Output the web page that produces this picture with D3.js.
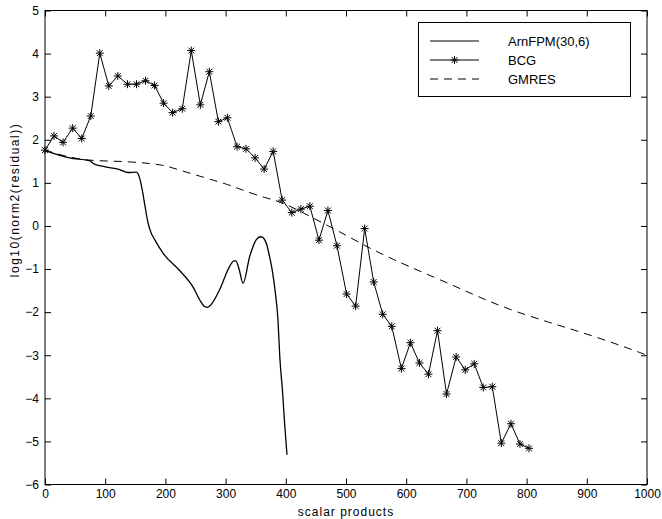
<!DOCTYPE html>
<html>
<head>
<meta charset="utf-8">
<script src="https://cdn.jsdelivr.net/npm/d3@7"></script>
<style>
  html, body { margin: 0; padding: 0; background: #fff; }
  svg text { font-family: "Liberation Sans", Arial, Helvetica, sans-serif; fill: #000; }
</style>
</head>
<body>
<svg id="chart" width="662" height="519"></svg>
<script>
// ---------------- DATA ----------------
const xTicks = [0, 100, 200, 300, 400, 500, 600, 700, 800, 900, 1000];
const yTicks = [-6, -5, -4, -3, -2, -1, 0, 1, 2, 3, 4, 5];
const seriesNames = ["ArnFPM(30,6)", "BCG", "GMRES"];

const arnX = [0, 41, 75, 80, 97, 124, 138, 152, 155, 158, 162, 166, 171, 176, 182, 196, 224, 246, 258, 264, 269, 275, 290, 307, 314, 317, 322, 329, 340, 351, 358, 362, 368, 373, 378, 382, 387, 390, 395, 398, 402];
const arnY = [1.75, 1.58, 1.51, 1.45, 1.38, 1.31, 1.24, 1.25, 1.20, 1.07, 0.80, 0.47, 0.08, -0.15, -0.31, -0.63, -1.04, -1.42, -1.74, -1.86, -1.89, -1.84, -1.48, -0.93, -0.81, -0.81, -0.98, -1.33, -0.71, -0.32, -0.25, -0.27, -0.42, -0.71, -1.07, -1.48, -2.18, -3.03, -3.92, -4.58, -5.31];

const bcgX = [0, 15, 30, 46, 61, 76, 91, 106, 121, 137, 152, 167, 182, 197, 212, 228, 243, 258, 273, 288, 303, 319, 334, 349, 364, 379, 394, 410, 425, 440, 455, 470, 485, 501, 516, 531, 546, 561, 576, 592, 607, 622, 637, 652, 667, 683, 698, 713, 728, 743, 758, 774, 789, 804];
const bcgY = [1.76, 2.09, 1.94, 2.27, 2.03, 2.55, 4.01, 3.25, 3.48, 3.29, 3.29, 3.37, 3.26, 2.85, 2.63, 2.72, 4.07, 2.81, 3.58, 2.42, 2.51, 1.84, 1.79, 1.58, 1.32, 1.73, 0.60, 0.31, 0.39, 0.46, -0.33, 0.36, -0.46, -1.58, -1.86, -0.06, -1.30, -2.05, -2.33, -3.31, -2.71, -3.18, -3.44, -2.43, -3.90, -3.04, -3.34, -3.20, -3.75, -3.73, -5.04, -4.59, -5.06, -5.16];

const gmX = [0, 40, 75, 140, 196, 213, 268, 307, 324, 368, 394, 440, 484, 534, 580, 623, 683, 732, 782, 838, 887, 946, 1000];
const gmY = [1.76, 1.59, 1.51, 1.50, 1.42, 1.34, 1.11, 0.95, 0.85, 0.64, 0.56, 0.22, -0.09, -0.48, -0.79, -1.05, -1.41, -1.72, -1.99, -2.24, -2.45, -2.72, -3.0];

// ---------------- LAYOUT ----------------
const svg = d3.select("#chart");
const L = 45, R = 647, T = 10.5, B = 484.5;
const x = d3.scaleLinear().domain([0, 1000]).range([L, R]);
const y = d3.scaleLinear().domain([-6, 5]).range([B, T]);
const tickLen = 6;

svg.append("rect").attr("width", 662).attr("height", 519).attr("fill", "#fff");

const plot = svg.append("g");
const zip = (xs, ys) => xs.map((v, i) => [v, ys[i]]);

// GMRES dashed
plot.append("path")
  .datum(zip(gmX, gmY))
  .attr("fill", "none").attr("stroke", "#000").attr("stroke-width", 1)
  .attr("stroke-dasharray", "8,6")
  .attr("d", d3.line().x(d => x(d[0])).y(d => y(d[1])).curve(d3.curveBasis));

// ArnFPM solid
plot.append("path")
  .datum(zip(arnX, arnY))
  .attr("fill", "none").attr("stroke", "#000").attr("stroke-width", 1.3)
  .attr("stroke-linejoin", "round")
  .attr("d", d3.line().x(d => x(d[0])).y(d => y(d[1])).curve(d3.curveMonotoneX));

// BCG line + asterisk markers
const bcg = zip(bcgX, bcgY);
plot.append("path")
  .datum(bcg)
  .attr("fill", "none").attr("stroke", "#000").attr("stroke-width", 1)
  .attr("d", d3.line().x(d => x(d[0])).y(d => y(d[1])));
const star = "M-4,0H4M0,-4V4M-2.9,-2.9L2.9,2.9M-2.9,2.9L2.9,-2.9";
plot.selectAll("path.star").data(bcg).enter().append("path")
  .attr("class", "star")
  .attr("transform", d => `translate(${x(d[0])},${y(d[1])})`)
  .attr("d", star)
  .attr("fill", "none").attr("stroke", "#000").attr("stroke-width", 1);

// ---------------- AXES ----------------
svg.append("rect")
  .attr("x", L).attr("y", T).attr("width", R - L).attr("height", B - T)
  .attr("fill", "none").attr("stroke", "#000").attr("stroke-width", 1);

const fmt = d3.format("d");
const xb = svg.append("g").attr("transform", `translate(0,${B})`)
  .call(d3.axisBottom(x).tickValues(xTicks).tickFormat(fmt).tickSizeInner(-tickLen).tickSizeOuter(0).tickPadding(9));
const xt = svg.append("g").attr("transform", `translate(0,${T})`)
  .call(d3.axisTop(x).tickValues(xTicks).tickSizeInner(-tickLen).tickSizeOuter(0).tickFormat(""));
const yl = svg.append("g").attr("transform", `translate(${L},0)`)
  .call(d3.axisLeft(y).tickValues(yTicks).tickFormat(fmt).tickSizeInner(-tickLen).tickSizeOuter(0).tickPadding(12));
const yr = svg.append("g").attr("transform", `translate(${R},0)`)
  .call(d3.axisRight(y).tickValues(yTicks).tickSizeInner(-tickLen).tickSizeOuter(0).tickFormat(""));

[xb, xt, yl, yr].forEach(g => {
  g.select(".domain").remove();
  g.selectAll("line").attr("stroke", "#000");
  g.selectAll("text").attr("font-size", "12px").attr("font-family", "Liberation Sans, Arial, sans-serif").attr("fill", "#000");
});
yl.selectAll("text").attr("x", -6);
xb.selectAll("text").attr("y", 5);

// axis labels
svg.append("text")
  .attr("x", x(500)).attr("y", 516)
  .attr("text-anchor", "middle").attr("font-size", "12px")
  .attr("letter-spacing", "1px")
  .text("scalar products");
svg.append("text")
  .attr("transform", `translate(19,200) rotate(-90)`)
  .attr("text-anchor", "middle").attr("font-size", "12px")
  .attr("letter-spacing", "1.5px")
  .text("log10(norm2(residual))");

// ---------------- LEGEND ----------------
const lg = svg.append("g");
lg.append("rect").attr("x", 418.5).attr("y", 22.5).attr("width", 212).attr("height", 74)
  .attr("fill", "#fff").attr("stroke", "#000").attr("stroke-width", 1);
const rows = [41, 60, 79];
const lx0 = 430, lx1 = 479, tx = 508;
seriesNames.forEach((name, i) => {
  const ln = lg.append("line").attr("x1", lx0).attr("x2", lx1).attr("y1", rows[i]).attr("y2", rows[i])
    .attr("stroke", "#000").attr("stroke-width", 1);
  if (i === 2) ln.attr("stroke-dasharray", "8,6");
  if (i === 1) {
    lg.append("path").attr("transform", `translate(${(lx0 + lx1) / 2},${rows[i]})`)
      .attr("d", star).attr("fill", "none").attr("stroke", "#000");
  }
  lg.append("text").attr("x", tx).attr("y", rows[i]).attr("dy", "0.36em")
    .attr("font-size", "13px").text(name);
});
</script>
</body>
</html>
